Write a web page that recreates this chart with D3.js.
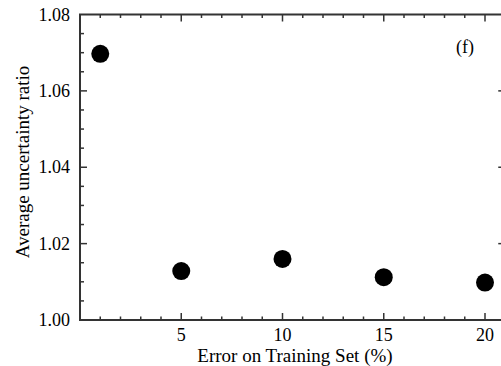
<!DOCTYPE html>
<html>
<head>
<meta charset="utf-8">
<script src="https://cdn.jsdelivr.net/npm/d3@7"></script>
<style>
  body { margin: 0; background: #fff; }
  svg { display: block; }
  text { font-family: "Liberation Serif", "DejaVu Serif", serif; fill: #000; }
</style>
</head>
<body>
<div id="chart"></div>
<script>
// datos
const errorPct = [1, 5, 10, 15, 20];
const ratio = [1.0697, 1.0128, 1.0160, 1.0112, 1.0098];
const xTicks = [5, 10, 15, 20];
const yTicks = [1.00, 1.02, 1.04, 1.06, 1.08];

const width = 501, height = 366;
const plotLeft = 80, plotTop = 14.5, plotBottom = 320;

const svg = d3.select("#chart").append("svg")
    .attr("width", width)
    .attr("height", height);

const x = d3.scaleLinear().domain([0, 21]).range([plotLeft, plotLeft + 21 * 20.25]);
const y = d3.scaleLinear().domain([1.00, 1.08]).range([plotBottom, plotTop]);

const axisColor = "#333";

// ejes (caja)
svg.append("rect")
    .attr("x", x(0)).attr("y", y(1.08))
    .attr("width", x(21) - x(0)).attr("height", y(1.00) - y(1.08))
    .attr("fill", "none").attr("stroke", axisColor).attr("stroke-width", 2);

// ticks menores y mayores en x (abajo y arriba)
const xMinor = d3.range(1, 21);
svg.selectAll(".xt").data(xMinor).enter().append("line")
    .attr("x1", d => x(d)).attr("x2", d => x(d))
    .attr("y1", plotBottom).attr("y2", d => plotBottom - (d % 5 === 0 ? 7 : 3.5))
    .attr("stroke", axisColor).attr("stroke-width", 1.5);
svg.selectAll(".xtt").data(xMinor).enter().append("line")
    .attr("x1", d => x(d)).attr("x2", d => x(d))
    .attr("y1", plotTop).attr("y2", d => plotTop + (d % 5 === 0 ? 7 : 3.5))
    .attr("stroke", axisColor).attr("stroke-width", 1.5);

// ticks en y (izquierda y derecha)
const yMinor = d3.range(1, 16).map(i => 1.00 + i * 0.005);
svg.selectAll(".yt").data(yMinor).enter().append("line")
    .attr("y1", d => y(d)).attr("y2", d => y(d))
    .attr("x1", plotLeft).attr("x2", (d, i) => plotLeft + ((i + 1) % 4 === 0 ? 7 : 4))
    .attr("stroke", axisColor).attr("stroke-width", 1.5);
svg.selectAll(".ytr").data(yMinor).enter().append("line")
    .attr("y1", d => y(d)).attr("y2", d => y(d))
    .attr("x1", x(21)).attr("x2", (d, i) => x(21) - ((i + 1) % 4 === 0 ? 7 : 4))
    .attr("stroke", axisColor).attr("stroke-width", 1.5);

// etiquetas
svg.selectAll(".xl").data(xTicks).enter().append("text")
    .attr("x", d => x(d)).attr("y", 341)
    .attr("text-anchor", "middle").attr("font-size", "18px")
    .text(d => d);
svg.selectAll(".yl").data(yTicks).enter().append("text")
    .attr("x", 70).attr("y", d => y(d) + 6)
    .attr("text-anchor", "end").attr("font-size", "18px")
    .text(d => d.toFixed(2));

svg.append("text")
    .attr("x", 295).attr("y", 362)
    .attr("text-anchor", "middle").attr("font-size", "19px")
    .text("Error on Training Set (%)");
svg.append("text")
    .attr("transform", "translate(29,162) rotate(-90)")
    .attr("text-anchor", "middle").attr("font-size", "19px")
    .text("Average uncertainty ratio");
svg.append("text")
    .attr("x", 465).attr("y", 53)
    .attr("text-anchor", "middle").attr("font-size", "18px")
    .text("(f)");

// puntos
svg.selectAll("circle").data(errorPct).enter().append("circle")
    .attr("cx", d => x(d))
    .attr("cy", (d, i) => y(ratio[i]))
    .attr("r", 9)
    .attr("fill", "#000");
</script>
</body>
</html>
